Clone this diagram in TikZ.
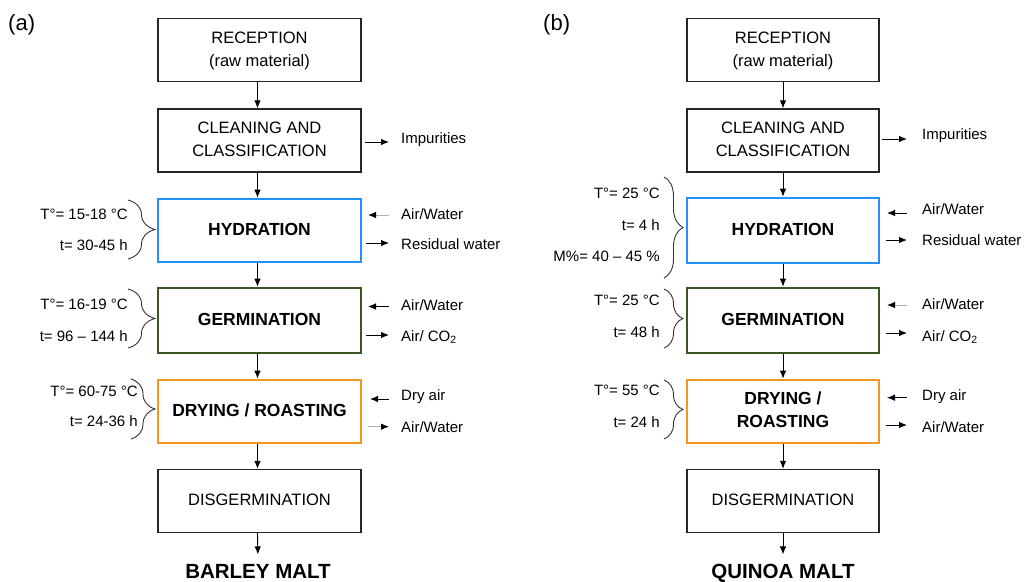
\documentclass[tikz,border=0pt]{standalone}
\usepackage{fontspec}
\setmainfont{Liberation Sans}
\usetikzlibrary{arrows.meta,decorations.pathreplacing}
\definecolor{hblue}{RGB}{35,145,245}
\definecolor{ggreen}{RGB}{56,87,35}
\definecolor{dorange}{RGB}{245,150,30}
\newcommand\bxt[1]{\raisebox{3.5pt}{\begin{tabular}{@{}c@{}}#1\end{tabular}}}
\begin{document}
\begin{tikzpicture}[x=1pt,y=-1pt,
  box/.style={draw=black!85, line width=1.4pt, minimum height=63pt, inner sep=0pt,
    font=\fontsize{16.5}{23}\selectfont},
  boxA/.style={box, minimum width=203pt},
  boxB/.style={box, minimum width=192pt},
  cbox/.style={line width=2.6pt, font=\fontsize{17.5}{23}\selectfont\bfseries},
  side/.style={inner sep=0pt, anchor=west, text height=10.7pt, text depth=0pt,
    font=\fontsize{15}{18}\selectfont},
  param/.style={inner sep=0pt, anchor=east, text height=10.7pt, text depth=0pt,
    font=\fontsize{15}{18}\selectfont},
  malt/.style={inner sep=0pt, text height=14.7pt, text depth=0pt,
    font=\fontsize{20.5}{24}\selectfont\bfseries},
  panel/.style={inner sep=0pt, anchor=west, font=\fontsize{22}{26}\selectfont},
  tipA/.style={-{Latex[length=8pt,width=6.5pt,color=black]}, line width=0.9pt},
  flow/.style={tipA},
  outA/.style={tipA, shorten >=12pt},
  inA/.style={tipA, shorten <=12pt},
  outB/.style={tipA, shorten >=15pt},
  inB/.style={tipA, shorten <=15pt},
  faint/.style={draw=black!30},
  brc/.style={decorate, draw=black!80, line width=0.9pt},
]
\useasboundingbox (0,0) rectangle (1025,581);

% ---------------- (a) ----------------
\node[panel] (pa) at (8,24.5) {(a)};
\node[boxA] (aRec) at (259.5,50) {\bxt{RECEPTION\\(raw material)}};
\node[boxA] (aCln) at (259.5,140.5) {\bxt{CLEANING AND\\CLASSIFICATION}};
\node[boxA,cbox,draw=hblue] (aHyd) at (259.5,230.5) {\bxt{HYDRATION}};
\node[boxA,cbox,draw=ggreen,minimum height=65pt] (aGer) at (259.5,320.5) {\bxt{GERMINATION}};
\node[boxA,cbox,draw=dorange] (aDry) at (259.5,411.5) {\bxt{DRYING / ROASTING}};
\node[boxA] (aDis) at (259.5,501) {\bxt{DISGERMINATION}};
\node[malt] (aMalt) at (258,571) {BARLEY MALT};

\draw[flow] ([xshift=-2pt]aRec.south) -- ([xshift=-2pt]aCln.north);
\draw[flow] ([xshift=-2pt]aCln.south) -- ([xshift=-2pt]aHyd.north);
\draw[flow] ([xshift=-2pt]aHyd.south) -- ([xshift=-2pt]aGer.north);
\draw[flow] ([xshift=-2pt]aGer.south) -- ([xshift=-2pt]aDry.north);
\draw[flow] ([xshift=-2pt]aDry.south) -- ([xshift=-2pt]aDis.north);
\draw[flow, shorten >=9pt] ([xshift=-2pt]aDis.south) -- (aMalt.north);

% side streams (a)
\node[side] (aImp) at (401,138) {Impurities};
\coordinate (ac1) at (365,142);
\draw[outA] (ac1) -- (ac1 -| aImp.west);

\node[side] (aHin) at (401,214) {Air/Water};
\coordinate (ah1) at (368,215);
\draw[inA,faint] (ah1 -| aHin.west) -- (ah1);
\node[side] (aHout) at (401,244) {Residual water};
\coordinate (ah2) at (366,243);
\draw[outA] (ah2) -- (ah2 -| aHout.west);

\node[side] (aGin) at (401,305.5) {Air/Water};
\coordinate (ag1) at (368,306.5);
\draw[inA] (ag1 -| aGin.west) -- (ag1);
\node[side] (aGout) at (401,335.7) {Air/ CO\textsubscript{2}};
\coordinate (ag2) at (366,335);
\draw[outA] (ag2) -- (ag2 -| aGout.west);

\node[side] (aDin) at (401,395) {Dry air};
\coordinate (ad1) at (370,399);
\draw[inA] (ad1 -| aDin.west) -- (ad1);
\node[side] (aDout) at (401,426.7) {Air/Water};
\coordinate (ad2) at (368,426.7);
\draw[outA,faint] (ad2) -- (ad2 -| aDout.west);

% parameters (a)
\node[param] (aHT) at (128,213.8) {T°= 15-18 °C};
\node[param] (aHt) at (128,244.7) {t= 30-45 h};
\draw[brc, decoration={brace, amplitude=27pt}] (128,200) -- (128,259);
\node[param] (aGT) at (128,304) {T°= 16-19 °C};
\node[param] (aGt) at (128,335.7) {t= 96 – 144 h};
\draw[brc, decoration={brace, amplitude=27pt}] (128,289) -- (128,348);
\node[param] (aDT) at (138,391) {T°= 60-75 °C};
\node[param] (aDt) at (138,421) {t= 24-36 h};
\draw[brc, decoration={brace, amplitude=24pt}] (131,379) -- (131,439);

% ---------------- (b) ----------------
\node[panel] (pb) at (543,24.5) {(b)};
\node[boxB] (bRec) at (783,50) {\bxt{RECEPTION\\(raw material)}};
\node[boxB] (bCln) at (783,140.5) {\bxt{CLEANING AND\\CLASSIFICATION}};
\node[boxB,cbox,draw=hblue,minimum height=65pt] (bHyd) at (783,230.5) {\bxt{HYDRATION}};
\node[boxB,cbox,draw=ggreen,minimum height=65pt] (bGer) at (783,320.5) {\bxt{GERMINATION}};
\node[boxB,cbox,draw=dorange] (bDry) at (783,411.5) {\bxt{DRYING /\\ROASTING}};
\node[boxB] (bDis) at (783,501) {\bxt{DISGERMINATION}};
\node[malt] (bMalt) at (783,571) {QUINOA MALT};

\draw[flow] (bRec.south) -- (bCln.north);
\draw[flow] (bCln.south) -- (bHyd.north);
\draw[flow] (bHyd.south) -- (bGer.north);
\draw[flow] (bGer.south) -- (bDry.north);
\draw[flow] (bDry.south) -- (bDis.north);
\draw[flow, shorten >=9pt] (bDis.south) -- (bMalt.north);

% side streams (b)
\node[side] (bImp) at (922,134) {Impurities};
\coordinate (bc1) at (882,139);
\draw[outB] (bc1) -- (bc1 -| bImp.west);

\node[side] (bHin) at (922,209) {Air/Water};
\coordinate (bh1) at (887,213);
\draw[inB] (bh1 -| bHin.west) -- (bh1);
\node[side] (bHout) at (922,240) {Residual water};
\coordinate (bh2) at (886,240);
\draw[outB] (bh2) -- (bh2 -| bHout.west);

\node[side] (bGin) at (922,304) {Air/Water};
\coordinate (bg1) at (887,305);
\draw[inB,faint] (bg1 -| bGin.west) -- (bg1);
\node[side] (bGout) at (922,335.7) {Air/ CO\textsubscript{2}};
\coordinate (bg2) at (886,333);
\draw[outB] (bg2) -- (bg2 -| bGout.west);

\node[side] (bDin) at (922,395.3) {Dry air};
\coordinate (bd1) at (887,397.7);
\draw[inB] (bd1 -| bDin.west) -- (bd1);
\node[side] (bDout) at (922,427) {Air/Water};
\coordinate (bd2) at (886,425);
\draw[outB] (bd2) -- (bd2 -| bDout.west);

% parameters (b)
\node[param] (bHT) at (660,193.3) {T°= 25 °C};
\node[param] (bHt) at (660,225) {t= 4 h};
\node[param] (bHM) at (660,256) {M\%= 40 – 45 \%};
\draw[brc, decoration={brace, amplitude=19pt}] (664,177) -- (664,278);
\node[param] (bGT) at (660,300) {T°= 25 °C};
\node[param] (bGt) at (660,331.7) {t= 48 h};
\draw[brc, decoration={brace, amplitude=19pt}] (664,289) -- (664,348);
\node[param] (bDT) at (660,390.5) {T°= 55 °C};
\node[param] (bDt) at (660,421.7) {t= 24 h};
\draw[brc, decoration={brace, amplitude=19pt}] (664,380) -- (664,439);
\end{tikzpicture}
\end{document}
